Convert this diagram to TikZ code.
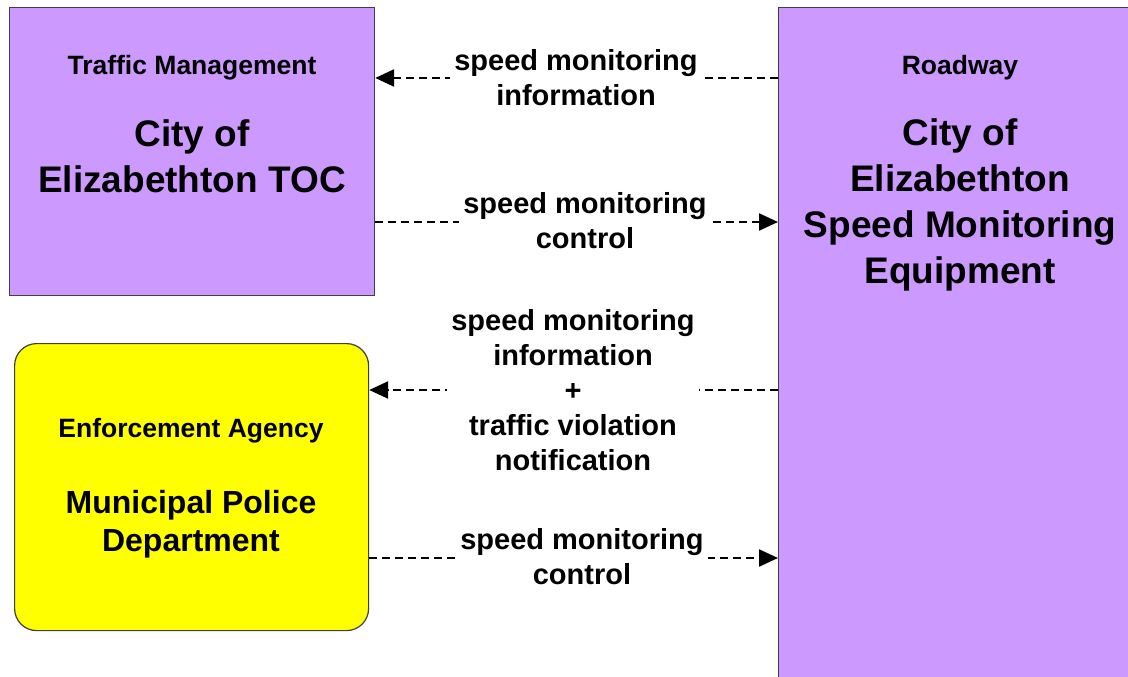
\documentclass[tikz,border=0pt]{standalone}
\usepackage{fontspec}
\setmainfont{Liberation Sans}
\usetikzlibrary{arrows.meta, positioning}
\definecolor{rwpurple}{HTML}{CC99FF}
\definecolor{polyellow}{HTML}{FFFF00}
\definecolor{edge}{HTML}{404040}

\begin{document}
\begin{tikzpicture}[x=1pt, y=-1pt,
    every node/.style={font=\bfseries},
    entity/.style={draw=edge, line width=1.2pt, anchor=north west, inner sep=0pt},
    hdr/.style={font=\fontsize{26.5}{32}\selectfont\bfseries},
    orgname/.style={font=\fontsize{37}{46}\selectfont\bfseries, align=center},
    flow/.style={dash pattern=on 8pt off 5pt, line width=2.4pt,
                 -{Triangle[length=19pt, width=17pt]}},
    lbl/.style={fill=white, inner sep=4pt, align=center,
                font=\fontsize{29}{35}\selectfont\bfseries}
]
    \useasboundingbox (0,0) rectangle (1128,677);
    \clip (0,0) rectangle (1128,677);

    % boxes
    \node[entity, fill=rwpurple, minimum width=365pt, minimum height=288pt] (toc) at (9,7) {};
    \node[entity, fill=rwpurple, minimum width=380pt, minimum height=700pt] (road) at (778,7) {};
    \node[entity, fill=polyellow, rounded corners=22pt, minimum width=354pt, minimum height=287pt] (police) at (14,343) {};

    % titles
    \node[hdr] at (192,68) {Traffic Management};
    \node[orgname] at (192,156) {City of\\Elizabethton TOC};
    \node[hdr] at (960,68) {Roadway};
    \node[orgname] at (960,205) {City of\\Elizabethton\\Speed Monitoring\\Equipment};
    \node[hdr] at (191,431) {Enforcement Agency};
    \node[orgname, font=\fontsize{32}{38}\selectfont\bfseries] at (191,524) {Municipal Police\\Department};

    % rows of the flows
    \coordinate (f1) at (0,78);
    \coordinate (f2) at (0,222);
    \coordinate (f3) at (0,390);
    \coordinate (f4) at (0,558);

    \draw[flow] (road.west |- f1) -- (toc.east |- f1);
    \draw[flow] (toc.east |- f2) -- (road.west |- f2);
    \draw[flow] (road.west |- f3) -- (police.east |- f3);
    \draw[flow] (police.east |- f4) -- (road.west |- f4);

    \node[lbl] (l1) at (576,78)  {speed monitoring\\information};
    \node[lbl] (l2) at (585,221) {speed monitoring\\control};
    \node[lbl] (l3) at (573,390) {speed monitoring\\information\\+\\traffic violation\\notification};
    \node[lbl] (l4) at (582,557) {speed monitoring\\control};
\end{tikzpicture}
\end{document}
